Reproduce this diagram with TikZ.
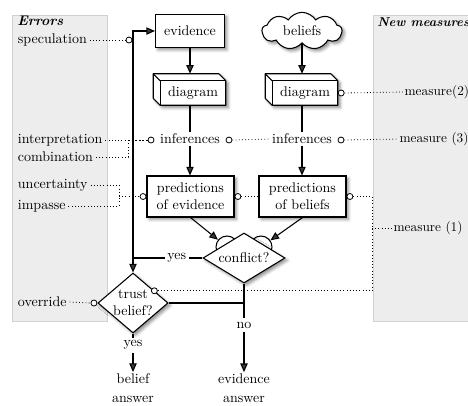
\documentclass[tikz,border=0pt]{standalone}
\usetikzlibrary{shapes.geometric,shapes.symbols,arrows.meta,shadows.blur,calc}
\begin{document}
\begin{tikzpicture}[x=0.75pt,y=-0.75pt,
  font=\fontsize{10.5}{14}\selectfont,
  ln/.style={line width=0.8pt},
  arr/.style={line width=0.8pt,-{Triangle[length=6.5pt,width=5.5pt]}},
  dots/.style={line width=0.6pt,dash pattern=on 0.6pt off 1.8pt},
  densedots/.style={line width=0.6pt,dash pattern=on 1.5pt off 1.2pt},
  sc/.style={circle,draw,fill=white,inner sep=0pt,minimum size=4.5pt,line width=0.6pt},
  shd/.style={blur shadow={shadow xshift=1.8pt,shadow yshift=-1.8pt,shadow blur radius=2.2pt,shadow opacity=45}},
  box/.style={draw,fill=white,line width=0.8pt,shd,inner sep=1pt,align=center},
  panel/.style={fill=black!7,draw=black!18,line width=0.6pt},
  lbl/.style={inner sep=1pt},
  lt/.style={anchor=west,inner sep=2pt},
  mt/.style={anchor=west,inner sep=1pt,font=\fontsize{10}{12}\selectfont},
  bump/.style={circle,draw,fill=white,line width=0.8pt,inner sep=0pt,minimum size=16.5pt},
]
\useasboundingbox (0,0) rectangle (468,405);
\clip (0,0) rectangle (468,405);
% panels
\draw[panel] (12,15) rectangle (107,321);
\draw[panel] (373,15) rectangle (480,321);
\node[anchor=north west,inner sep=0pt] (errors) at (17,16) {\textbf{\textit{Errors}}};
\node[anchor=north west,inner sep=0pt,font=\fontsize{9.6}{12}\selectfont] (newm) at (377,17) {\textbf{\textit{New measures}}};

% top row
\node[box,minimum width=51.75pt,minimum height=24.75pt] (evidence) at (190,31) {evidence};
\node[cloud,cloud puffs=9,cloud puff arc=115,aspect=2.2,draw,fill=white,line width=0.8pt,shd,
  minimum width=60pt,minimum height=28pt,inner sep=0pt] (beliefs) at (302,31) {beliefs};

% diagram boxes (3D)
\node[minimum width=48.75pt,minimum height=18pt,inner sep=0pt] (dL) at (193,93) {};
\node[minimum width=48.75pt,minimum height=18pt,inner sep=0pt] (dR) at (305,93) {};
\foreach \d in {dL,dR}{
  \path[draw,fill=white,line width=0.8pt,shd,line join=round]
    (\d.south west) -- ($(\d.south west)+(-7,-7)$) -- ($(\d.north west)+(-7,-7)$)
    -- ($(\d.north east)+(-7,-7)$) -- (\d.north east) -- (\d.south east) -- cycle;
  \draw[line width=0.8pt,line join=round] (\d.south west) -- (\d.north west) -- (\d.north east);
  \draw[line width=0.8pt] (\d.north west) -- ++(-7,-7);
}
\node[inner sep=0pt] (dLt) at (dL) {diagram};
\node[inner sep=0pt] (dRt) at (dR) {diagram};
\coordinate (dLtop) at ($(dL.north)+(-7,-7)$);
\coordinate (dRtop) at ($(dR.north)+(-7,-7)$);
\draw[arr] (evidence.south) -- (evidence.south |- dLtop);
\draw[arr] (beliefs.south) -- (beliefs.south |- dRtop);

% inferences
\node[lbl] (infL) at (190,139) {inferences};
\node[lbl] (infR) at (302,139) {inferences};
\draw[ln] (infL.north |- dL.south) -- (infL.north);
\draw[ln] (infR.north |- dR.south) -- (infR.north);

% predictions
\node[box,minimum width=65.25pt,minimum height=30.75pt] (pL) at (190.5,196.5) {predictions\\[-1pt]of evidence};
\node[box,minimum width=65.25pt,minimum height=30.75pt] (pR) at (302.5,196.5) {predictions\\[-1pt]of beliefs};
\draw[arr] (infL.south) -- (infL.south |- pL.north);
\draw[arr] (infR.south) -- (infR.south |- pR.north);

% conflict (cloud bumps behind the diamond)
\node[bump] (bumpL) at (227,247) {};
\node[bump] (bumpR) at (261,247) {};
\node[diamond,draw,fill=white,line width=0.8pt,shd,minimum width=61.5pt,minimum height=37.5pt,
  inner sep=0pt,aspect=1.64] (conflict) at (244,258) {conflict?};
\draw[arr] (pL.south) -- (bumpL);
\draw[arr] (pR.south) -- (bumpR);

% trust
\node[diamond,draw,fill=white,line width=0.8pt,shd,minimum width=52.5pt,minimum height=45pt,
  inner sep=0pt,aspect=1.17,align=center] (trust) at (133,303) {trust\\[-1pt]belief?};

\coordinate (jy) at (trust.north |- conflict.west);
\draw[ln] (conflict.west) -- node[pos=0.37,fill=white,inner sep=2pt] (yes1) {yes} (jy);
\draw[arr] (jy) -- (trust.north);
\draw[arr] (jy) -- (jy |- evidence.west) -- (evidence.west);

\draw[ln] (trust.east) -- (trust.east -| conflict.south);
\node[inner sep=3pt] (no) at (244,325) {no};
\draw[ln] (conflict.south) -- (no.north);
\node[align=center,inner sep=1pt] (evans) at (244,388) {evidence\\answer};
\draw[arr] (no.south) -- (evans.north);

\node[inner sep=2pt] (yes2) at (133,345) {yes};
\draw[ln] (trust.south) -- (yes2.north);
\node[align=center,inner sep=1pt] (belans) at (133,388) {belief\\answer};
\draw[arr] (yes2.south) -- (belans.north);

% error labels and dotted links
\node[lt] (spec) at (15,40) {speculation};
\node[sc] (cSpec) at (129,40) {};
\draw[dots] (spec.east) -- (cSpec.west);

\node[lt] (interp) at (15,140) {interpretation};
\node[lt] (comb) at (15,157) {combination};
\coordinate (jIC) at (128,140);
\node[sc] (cInfL) at (151,140) {};
\draw[dots] (interp.east) -- (jIC);
\draw[dots] (comb.east) -- (comb.east -| jIC) -- (jIC);
\draw[densedots] (jIC) -- (cInfL.west);

\node[lt] (unc) at (15,185) {uncertainty};
\node[lt] (imp) at (15,206) {impasse};
\coordinate (jUI) at (119,196.5);
\node[sc,anchor=east] (cPL) at (pL.west) {};
\draw[dots] (unc.east) -- (unc.east -| jUI) -- (jUI |- imp.east) -- (imp.east);
\draw[dots] (jUI) -- (cPL.west);

\node[lt] (ov) at (15,302) {override};
\node[sc,anchor=east] (cOv) at (trust.west) {};
\draw[dots] (ov.east) -- (cOv.west);

% inference circles
\node[sc] (cInfLR) at (229,140) {};
\node[sc] (cInfR) at (341,140) {};
\draw[dots] (cInfLR.east) -- (infR.west);

% prediction circles
\node[sc,anchor=west] (cPL2) at (pL.east) {};
\draw[dots] (cPL2.east) -- (pR.west);
\node[sc,anchor=west] (cPR) at (pR.east) {};
\node[sc] (cTrust) at ($(trust.north)!0.6!(trust.east)$) {};
\coordinate (jR) at (372,196.5);
\draw[dots] (cPR.east) -- (jR) -- (jR |- cTrust) -- (cTrust.east);

% measures
\node[sc,anchor=west] (cDR) at (dR.east) {};
\node[mt] (m2) at (403,92) {measure(2)};
\draw[dots] (cDR.east) -- (m2.west);
\node[mt] (m3) at (398,139) {measure (3)};
\draw[dots] (cInfR.east) -- (m3.west);
\node[mt] (m1) at (392,228) {measure (1)};
\draw[dots] (m1.west -| jR) -- (m1.west);
\end{tikzpicture}
\end{document}
